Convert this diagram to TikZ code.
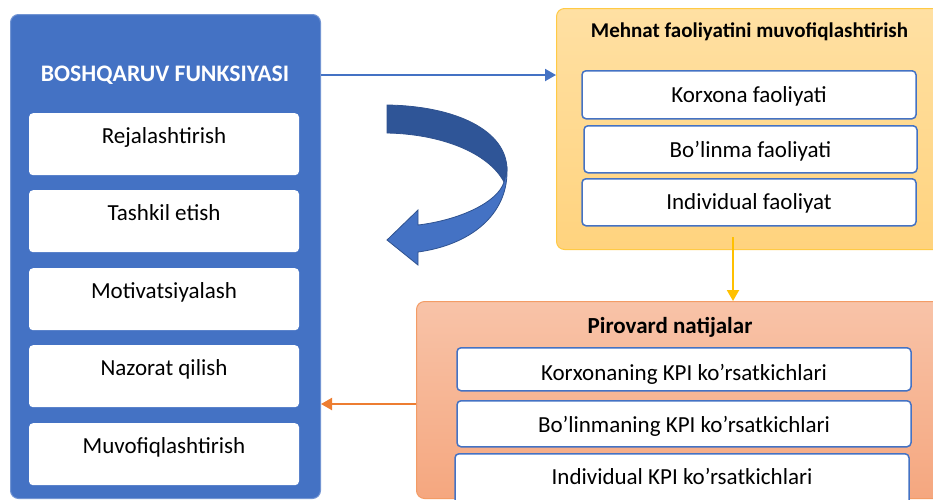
\documentclass[tikz,border=0pt]{standalone}
\usepackage{fontspec}
\setmainfont{Carlito}
\usetikzlibrary{calc, arrows.meta}
\definecolor{funcblue}{HTML}{4472C4}
\definecolor{darkblue}{HTML}{2F5597}
\definecolor{edgeblue}{HTML}{2F528F}
\definecolor{goldline}{HTML}{FFC000}
\definecolor{orangeline}{HTML}{ED7D31}
\definecolor{mftop}{HTML}{FFE0A3}
\definecolor{mfbot}{HTML}{FFD37E}
\definecolor{mfedge}{HTML}{FFCA45}
\definecolor{pntop}{HTML}{F8C3A8}
\definecolor{pnbot}{HTML}{F5A77F}
\definecolor{pnedge}{HTML}{F39C66}

\begin{document}
\begin{tikzpicture}[x=1pt, y=-1pt,
    panel/.style={rounded corners=8pt, anchor=north west, inner sep=0pt, line width=1pt},
    funcbox/.style={fill=white, rounded corners=4pt, minimum width=270pt, inner sep=0pt,
      text height=30pt, text depth=32pt, font=\fontsize{23}{27}\selectfont, anchor=north},
    itembox/.style={fill=white, draw=funcblue, line width=1.5pt, rounded corners=4pt, inner sep=0pt,
      text height=32pt, font=\fontsize{23}{27}\selectfont, anchor=north},
    head/.style={font=\bfseries\fontsize{21}{26}\selectfont},
    link/.style={line width=2pt, -{Triangle[length=11pt,width=12pt]}}]
  \useasboundingbox (0,0) rectangle (933,499);
  \clip (0,0) rectangle (933,499);
  % left panel
  \node[panel, fill=funcblue, draw=funcblue!75!white, minimum width=310pt, minimum height=484pt] (bf) at (10,14) {};
  \node[head, white, font=\bfseries\fontsize{23.7}{28}\selectfont] (bftitle) at (165,75) {BOSHQARUV FUNKSIYASI};
  \node[funcbox] (f1) at (164,113) {Rejalashtirish};
  \node[funcbox] (f2) at (164,190) {Tashkil etish};
  \node[funcbox] (f3) at (164,268) {Motivatsiyalash};
  \node[funcbox] (f4) at (164,345) {Nazorat qilish};
  \node[funcbox] (f5) at (164,423) {Muvofiqlashtirish};
  % upper right panel
  \node[panel, top color=mftop, bottom color=mfbot, draw=mfedge,
    minimum width=400pt, minimum height=241pt] (mf) at (556,8) {};
  \node[head] (mftitle) at (749.5,32) {Mehnat faoliyatini muvofiqlashtirish};
  \node[itembox, minimum width=334pt, text depth=16pt] (m1) at (749,70) {Korxona faoliyati};
  \node[itembox, minimum width=333pt, text depth=15pt] (m2) at (750.5,125) {Bo’linma faoliyati};
  \node[itembox, minimum width=334pt, text depth=16pt, text height=31pt] (m3) at (749,178) {Individual faoliyat};
  % lower right panel
  \node[panel, top color=pntop, bottom color=pnbot, draw=pnedge,
    minimum width=530pt, minimum height=197pt] (pn) at (416,301) {};
  \node[head, font=\bfseries\fontsize{23}{27}\selectfont] (pntitle) at (670,327) {Pirovard natijalar};
  \node[itembox, minimum width=454pt, text depth=10pt, text height=33pt] (k1) at (684,347) {Korxonaning KPI ko’rsatkichlari};
  \node[itembox, minimum width=454pt, text depth=14pt] (k2) at (684,400) {Bo’linmaning KPI ko’rsatkichlari};
  \node[itembox, minimum width=454pt, text depth=22pt, text height=31pt] (k3) at (682,453) {Individual KPI ko’rsatkichlari};
  % curved arrow
  \filldraw[darkblue, draw=edgeblue, line width=0.8pt] (387,105) .. controls (455,106) and (507,130) .. (507,170)
    -- (504,182) .. controls (488,152) and (440,134) .. (387,133) -- cycle;
  \filldraw[funcblue, draw=edgeblue, line width=0.8pt] (507,170) .. controls (508,215) and (470,245) .. (418,252)
    -- (418,265) -- (387,240) -- (418,210) -- (418,225) .. controls (460,220) and (498,202) .. (504,182) -- cycle;
  % connectors
  \coordinate (ya) at (733,237);
  \coordinate (oa) at (0,404);
  \draw[link, funcblue] (bf.east |- bftitle) -- (mf.west |- bftitle);
  \draw[link, goldline] (ya) -- (ya |- pn.north);
  \draw[link, orangeline] (pn.west |- oa) -- (bf.east |- oa);
\end{tikzpicture}
\end{document}
